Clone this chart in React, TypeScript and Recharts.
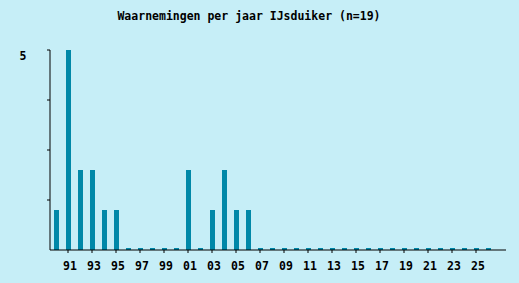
import React from "react";
import { BarChart, Bar, XAxis, YAxis } from "recharts";

const years: number[] = [
  1990, 1991, 1992, 1993, 1994, 1995, 1996, 1997, 1998, 1999, 2000, 2001, 2002,
  2003, 2004, 2005, 2006, 2007, 2008, 2009, 2010, 2011, 2012, 2013, 2014, 2015,
  2016, 2017, 2018, 2019, 2020, 2021, 2022, 2023, 2024, 2025, 2026, 2027,
];
const counts: (number | null)[] = [
  1, 5, 2, 2, 1, 1, 0, 0, 0, 0, 0, 2, 0, 1, 2, 1, 1, 0, 0, 0, 0, 0, 0, 0, 0, 0,
  0, 0, 0, 0, 0, 0, 0, 0, 0, 0, 0, null,
];
const yTicks: number[] = [0, 1.25, 2.5, 3.75, 5];
const title = "Waarnemingen per jaar IJsduiker (n=19)";

const data = years.map((y, i) => ({ year: y, count: counts[i] }));

const BG = "#c6eef7";
const BAR = "#0088a8";
const FONT = "'DejaVu Sans Mono', 'Liberation Mono', monospace";

const BarShape = (props: any) => {
  const { x, y, width, height, payload } = props;
  if (payload.count === null || payload.count === undefined) return null;
  if (payload.count === 0) {
    return <rect x={x} y={y - 2} width={width} height={2} fill={BAR} />;
  }
  return <rect x={x} y={y} width={width} height={height} fill={BAR} />;
};

const XTick = (props: any) => {
  const { x, y, payload, index } = props;
  const yr = Number(payload.value);
  if (yr % 2 === 0) return null;
  if (counts[years.indexOf(yr)] === null) return null;
  const label = String(yr % 100).padStart(2, "0");
  return (
    <g>
      <line x1={x} x2={x} y1={y} y2={y + 3} stroke="#000" strokeWidth={1} />
      <text
        x={x + 2}
        y={y + 20}
        textAnchor="middle"
        fontFamily={FONT}
        fontWeight="bold"
        fontSize={11.5}
        fill="#000"
      >
        {label}
      </text>
    </g>
  );
};

const YTick = (props: any) => {
  const { x, y, payload } = props;
  const v = Number(payload.value);
  return (
    <g>
      {v !== 0 && (
        <line x1={x - 3} x2={x} y1={y} y2={y} stroke="#000" strokeWidth={1} />
      )}
      {v === 5 && (
        <text
          x={23}
          y={y + 10}
          textAnchor="middle"
          fontFamily={FONT}
          fontWeight="bold"
          fontSize={11.5}
          fill="#000"
        >
          5
        </text>
      )}
    </g>
  );
};

export default function App() {
  return (
    <div
      style={{
        position: "fixed",
        left: 0,
        top: 0,
        width: 519,
        height: 283,
        background: BG,
      }}
    >
      <svg
        width={519}
        height={30}
        style={{ position: "absolute", left: 0, top: 0 }}
      >
        <text
          x={249}
          y={20}
          textAnchor="middle"
          fontFamily={FONT}
          fontWeight="bold"
          fontSize={11.5}
          fill="#000"
        >
          {title}
        </text>
      </svg>
      <div style={{ position: "absolute", left: 0, top: 0 }}>
        <BarChart
          width={519}
          height={283}
          data={data}
          margin={{ top: 50, right: 13, left: 0, bottom: 0 }}
          barCategoryGap={0}
        >
          <XAxis
            dataKey="year"
            type="category"
            interval={0}
            tickLine={false}
            tickSize={0}
            tickMargin={0}
            axisLine={{ stroke: "#000", strokeWidth: 1 }}
            tick={<XTick />}
            height={33}
          />
          <YAxis
            width={50}
            domain={[0, 5]}
            ticks={yTicks}
            interval={0}
            tickLine={false}
            tickSize={0}
            tickMargin={0}
            axisLine={{ stroke: "#000", strokeWidth: 1 }}
            tick={<YTick />}
          />
          <Bar
            dataKey="count"
            barSize={5}
            fill={BAR}
            isAnimationActive={false}
            shape={<BarShape />}
          />
        </BarChart>
      </div>
    </div>
  );
}
